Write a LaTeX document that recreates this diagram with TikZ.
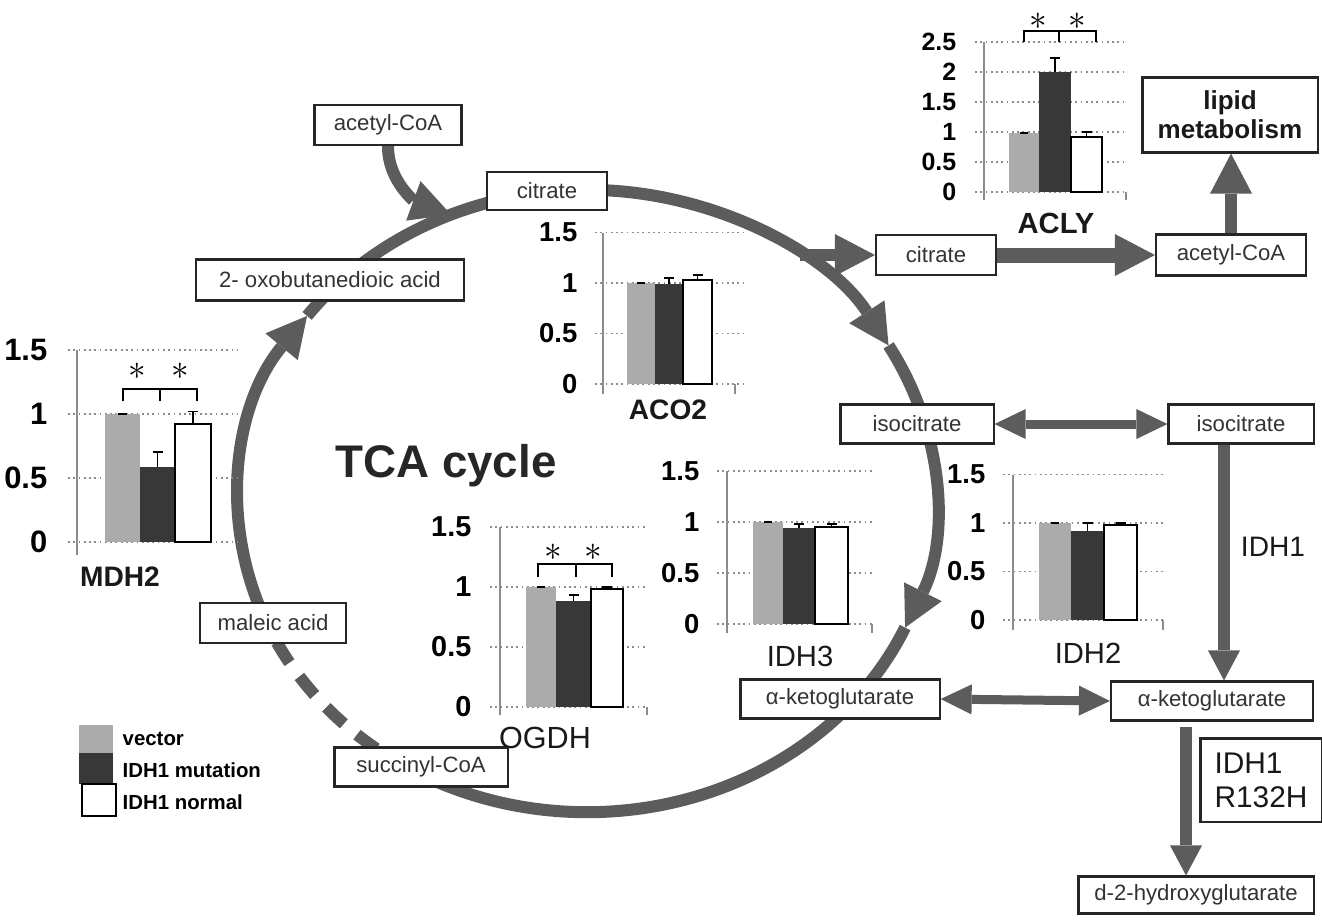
\documentclass[tikz,border=0pt]{standalone}
\usepackage{fontspec}
\setmainfont{Liberation Sans}
\usetikzlibrary{arrows.meta,calc}
\definecolor{agray}{RGB}{92,92,92}

\begin{document}
\begin{tikzpicture}[x=0.01cm, y=-0.01cm,
    box/.style={draw=black!85, line width=0.6pt, fill=white, inner sep=0pt, text=black!80, font=\fontsize{6.3}{7.5}\selectfont},
    cyc/.style={draw=agray, line width=0.12cm},
    fat/.style={cyc, -{Triangle[width=0.42cm,length=0.40cm,line width=0pt]}},
    mid/.style={cyc, -{Triangle[width=0.32cm,length=0.30cm,line width=0pt]}},
    dbl/.style={draw=agray, line width=0.09cm, {Triangle[width=0.30cm,length=0.31cm,line width=0pt]}-{Triangle[width=0.30cm,length=0.31cm,line width=0pt]}},
    grd/.style={black!45, densely dotted, line width=0.5pt},
    axl/.style={black!45, line width=0.5pt},
    vbar/.style={fill=black!33},
    mbar/.style={fill=black!78},
    nbar/.style={fill=white, draw=black, line width=0.55pt},
    err/.style={black, line width=0.55pt},
    tick/.style={anchor=east, inner sep=0pt, font=\bfseries\fontsize{7.8}{9}\selectfont},
    star/.style={inner sep=0pt, font=\fontsize{10}{10}\selectfont},
    ttl/.style={inner sep=0pt, text=black!90, font=\fontsize{8.3}{9}\selectfont}]
  \useasboundingbox (0,0) rectangle (1322,923);
  % the cycle
  \coordinate (O) at (587,501);
  \begin{scope}[x radius=3.48cm, y radius=3.11cm]
    \draw[fat] ($(O)+(204:3.48cm and 3.11cm)$) arc[start angle=204, end angle=143.5];
    \draw[fat] ($(O)+(143.5:3.48cm and 3.11cm)$) arc[start angle=143.5, end angle=30];
    \draw[fat] ($(O)+(30:3.48cm and 3.11cm)$) arc[start angle=30, end angle=-24];
    \draw[cyc] ($(O)+(-24:3.48cm and 3.11cm)$) arc[start angle=-24, end angle=-120];
    \draw[cyc, dash pattern=on 0.24cm off 0.17cm] ($(O)+(207:3.48cm and 3.11cm)$) arc[start angle=207, end angle=240];
  \end{scope}
  \coordinate (acin) at ($(O)+(113:3.48cm and 3.11cm)$);
  \coordinate (br) at (800,255);
  % metabolites
  \node[box, minimum width=1.47cm, minimum height=0.40cm] (acT) at (388,125) {acetyl-CoA};
  \node[box, minimum width=1.20cm, minimum height=0.38cm] (citT) at (547,191) {citrate};
  \node[box, minimum width=2.68cm, minimum height=0.41cm] (oxo) at (330,280) {2- oxobutanedioic acid};
  \node[box, minimum width=1.46cm, minimum height=0.40cm] (mal) at (273,623) {maleic acid};
  \node[box, minimum width=1.73cm, minimum height=0.39cm] (suc) at (421,767) {succinyl-CoA};
  \node[box, minimum width=1.99cm, minimum height=0.39cm] (akL) at (840,699) {α-ketoglutarate};
  \node[box, minimum width=1.53cm, minimum height=0.39cm] (isoL) at (917,424) {isocitrate};
  \node[box, minimum width=1.45cm, minimum height=0.39cm] (isoR) at (1241,424) {isocitrate};
  \node[box, minimum width=1.20cm, minimum height=0.40cm] (citR) at (936,255) {citrate};
  \node[box, minimum width=1.50cm, minimum height=0.41cm] (acR) at (1231,255) {acetyl-CoA};
  \node[box, minimum width=2.02cm, minimum height=0.39cm] (akR) at (1212,701) {α-ketoglutarate};
  \node[box, minimum width=2.35cm, minimum height=0.37cm] (d2) at (1196,895) {d-2-hydroxyglutarate};
  \node[box, minimum width=1.75cm, minimum height=0.75cm, align=center, text=black!90, font=\bfseries\fontsize{7.4}{8.2}\selectfont] (lipid) at (1230,115) {lipid\\metabolism};
  \node[box, minimum width=1.21cm, minimum height=0.83cm, align=left, text=black!90, font=\fontsize{8.5}{9.6}\selectfont] (r132) at (1261,780) {IDH1\\R132H};
  % arrows
  \draw[fat] (acT.south) to[out=-90, in=160] (acin);
  \draw[fat] (br) -- (citR.west);
  \draw[fat, line width=0.15cm] (citR.east) -- (acR.west);
  \draw[fat] (acR.north) -- (acR.north |- lipid.south);
  \draw[dbl] (isoL.east) -- (isoR.west);
  \draw[dbl] (akL.east) -- (akR.west);
  \draw[mid] ($(isoR.south)+(-17,0)$) coordinate (i1) -- (i1 |- akR.north);
  \draw[mid] ($(akR.south)+(-26,5)$) coordinate (k1) -- (k1 |- d2.north);
  \node[ttl, font=\fontsize{8}{9}\selectfont] (idh1) at (1273,547) {IDH1};
  \node[text=black!85, font=\bfseries\fontsize{13}{15}\selectfont] (tca) at (446,466) {TCA cycle};
  % MDH2
  \begin{scope}[shift={(77,542)}, yscale=-128]
    \foreach \v [count=\k] in {0,0.5,1,1.5} {
      \draw[grd] (-9,\v) -- (160,\v);
      \node[tick, font=\bfseries\fontsize{8.8}{9}\selectfont] (mdh\k) at (-29,\v) {\v};
    }
    \draw[axl] (0,1.5) -- (0,-0.1);
    \fill[vbar] (28,0) rectangle (63,1);
    \fill[mbar] (63,0) rectangle (98,0.59);
    \draw[nbar] (98,0) rectangle (134,0.92);
    \draw[err] (41,1) -- (50,1);
    \draw[err] (80.5,0.59) -- (80.5,0.70) (75.5,0.70) -- (85.5,0.70);
    \draw[err] (116,0.92) -- (116,1.02) (111,1.02) -- (121,1.02);
    \draw[err] (46,1.10) -- (46,1.195) -- (120,1.195) -- (120,1.10) (83,1.195) -- (83,1.10);
    \node[star] (mdhs1) at (60,1.33) {$\ast$};
    \node[star] (mdhs2) at (103,1.33) {$\ast$};
    \node[ttl, font=\bfseries\fontsize{8}{9}\selectfont] (mdh) at (43,-0.27) {MDH2};
  \end{scope}
  % ACO2
  \begin{scope}[shift={(603,384)}, yscale=-101]
    \foreach \v [count=\k] in {0,0.5,1,1.5} {
      \draw[grd] (-8,\v) -- (142,\v);
      \node[tick] (aco\k) at (-25,\v) {\v};
    }
    \draw[axl] (0,1.5) -- (0,-0.1) (132,0) -- (132,-0.1);
    \fill[vbar] (24,0) rectangle (52,1);
    \fill[mbar] (52,0) rectangle (80,0.99);
    \draw[nbar] (80,0) rectangle (109,1.03);
    \draw[err] (34,1) -- (42,1);
    \draw[err] (66,0.99) -- (66,1.05) (61,1.05) -- (71,1.05);
    \draw[err] (94.5,1.03) -- (94.5,1.08) (89.5,1.08) -- (99.5,1.08);
    \node[ttl, font=\bfseries\fontsize{8}{9}\selectfont] (aco) at (65,-0.26) {ACO2};
  \end{scope}
  % IDH3
  \begin{scope}[shift={(727,624)}, yscale=-102]
    \foreach \v [count=\k] in {0,0.5,1,1.5} {
      \draw[grd] (-10,\v) -- (145,\v);
      \node[tick] (idt\k) at (-27,\v) {\v};
    }
    \draw[axl] (0,1.5) -- (0,-0.09) (145,0) -- (145,-0.09);
    \fill[vbar] (26,0) rectangle (56,1);
    \fill[mbar] (56,0) rectangle (88,0.94);
    \draw[nbar] (88,0) rectangle (121,0.95);
    \draw[err] (37,1) -- (45,1);
    \draw[err] (72,0.94) -- (72,0.98) (67,0.98) -- (77,0.98);
    \draw[err] (104.5,0.95) -- (104.5,0.98) (99.5,0.98) -- (109.5,0.98);
    \node[ttl] (idt) at (73,-0.32) {IDH3};
  \end{scope}
  % IDH2
  \begin{scope}[shift={(1013,620)}, yscale=-97]
    \foreach \v [count=\k] in {0,0.5,1,1.5} {
      \draw[grd] (-10,\v) -- (150,\v);
      \node[tick] (idd\k) at (-27,\v) {\v};
    }
    \draw[axl] (0,1.5) -- (0,-0.1) (150,0) -- (150,-0.1);
    \fill[vbar] (26,0) rectangle (58,1);
    \fill[mbar] (58,0) rectangle (91,0.92);
    \draw[nbar] (91,0) rectangle (124,0.98);
    \draw[err] (38,1) -- (46,1);
    \draw[err] (74.5,0.92) -- (74.5,1.0) (69.5,1.0) -- (79.5,1.0);
    \draw[err] (107.5,0.98) -- (107.5,1.0) (102.5,1.0) -- (112.5,1.0);
    \node[ttl] (idd) at (75,-0.34) {IDH2};
  \end{scope}
  % OGDH
  \begin{scope}[shift={(500,707)}, yscale=-120]
    \foreach \v [count=\k] in {0,0.5,1,1.5} {
      \draw[grd] (-10,\v) -- (147,\v);
      \node[tick, font=\bfseries\fontsize{8.2}{9}\selectfont] (ogd\k) at (-28,\v) {\v};
    }
    \draw[axl] (0,1.5) -- (0,-0.07) (147,0) -- (147,-0.07);
    \fill[vbar] (26,0) rectangle (56,1);
    \fill[mbar] (56,0) rectangle (91,0.88);
    \draw[nbar] (91,0) rectangle (123,0.98);
    \draw[err] (37,1) -- (45,1);
    \draw[err] (73.5,0.88) -- (73.5,0.93) (68.5,0.93) -- (78.5,0.93);
    \draw[err] (107,0.98) -- (107,1.0) (102,1.0) -- (112,1.0);
    \draw[err] (38,1.08) -- (38,1.19) -- (112,1.19) -- (112,1.08) (76,1.19) -- (76,1.08);
    \node[star] (ogds1) at (53,1.29) {$\ast$};
    \node[star] (ogds2) at (93,1.29) {$\ast$};
    \node[ttl, font=\fontsize{8.7}{9}\selectfont] (ogd) at (45,-0.26) {OGDH};
  \end{scope}
  % ACLY
  \begin{scope}[shift={(984,192)}, yscale=-60]
    \foreach \v [count=\k] in {0,0.5,1,1.5,2,2.5} {
      \draw[grd] (-9,\v) -- (142,\v);
      \node[tick, font=\bfseries\fontsize{7.1}{8}\selectfont] (acl\k) at (-27,\v) {\v};
    }
    \draw[axl] (0,2.5) -- (0,-0.14) (142,0) -- (142,-0.14);
    \fill[vbar] (25,0) rectangle (55,0.98);
    \fill[mbar] (55,0) rectangle (87,2);
    \draw[nbar] (87,0) rectangle (118,0.92);
    \draw[err] (36,0.98) -- (44,0.98);
    \draw[err] (71,2) -- (71,2.23) (66,2.23) -- (76,2.23);
    \draw[err] (102.5,0.92) -- (102.5,1.0) (97.5,1.0) -- (107.5,1.0);
    \draw[err] (40,2.5) -- (40,2.68) -- (112,2.68) -- (112,2.5) (75,2.68) -- (75,2.5);
    \node[star] (acls1) at (54,2.84) {$\ast$};
    \node[star] (acls2) at (93,2.84) {$\ast$};
    \node[ttl, font=\bfseries\fontsize{8.3}{9}\selectfont] (acl) at (72,-0.52) {ACLY};
  \end{scope}
  % legend
  \fill[vbar] (79,725) rectangle (113,753);
  \fill[mbar] (79,753) rectangle (113,784);
  \draw[nbar] (82,784) rectangle (116,816);
  \node[anchor=west, inner sep=0pt, font=\bfseries\fontsize{5.8}{7}\selectfont] (lgv) at (122,739) {vector};
  \node[anchor=west, inner sep=0pt, font=\bfseries\fontsize{5.8}{7}\selectfont] (lgm) at (122,770) {IDH1 mutation};
  \node[anchor=west, inner sep=0pt, font=\bfseries\fontsize{5.8}{7}\selectfont] (lgn) at (122,802) {IDH1 normal};
\end{tikzpicture}
\end{document}
